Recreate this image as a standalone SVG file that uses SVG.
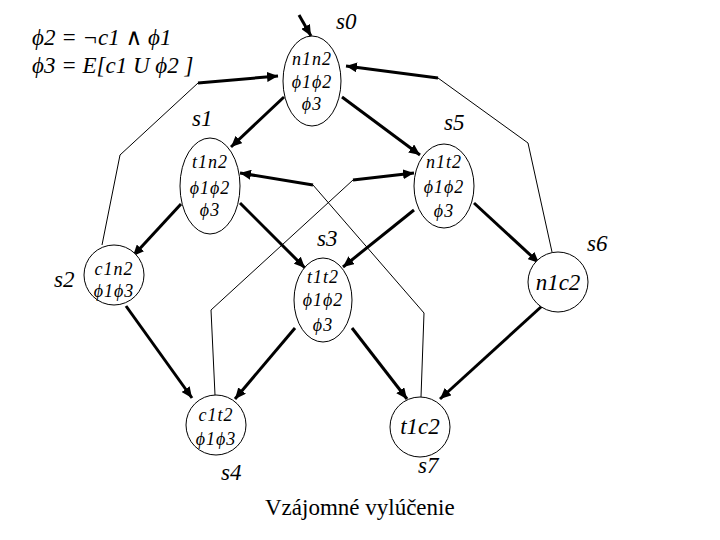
<svg xmlns="http://www.w3.org/2000/svg" width="720" height="540" viewBox="0 0 720 540">
<defs>
<marker id="ah" markerUnits="userSpaceOnUse" markerWidth="12" markerHeight="10" refX="11" refY="5" orient="auto">
<path d="M0,0 L11,5 L0,10 Z" fill="#000"/>
</marker>
<style>
.node ellipse{fill:#fff;stroke:#000;stroke-width:1}
.nt{font-family:"Liberation Serif","DejaVu Serif",serif;font-style:italic;font-size:18px;text-anchor:middle;letter-spacing:1px}
.nb{font-family:"Liberation Serif","DejaVu Serif",serif;font-style:italic;font-size:23px;text-anchor:middle}
.lbl{font-family:"Liberation Serif","DejaVu Serif",serif;font-style:italic;font-size:23px}
.thick{stroke:#000;stroke-width:3;fill:none;marker-end:url(#ah)}
.thin{stroke:#000;stroke-width:1;fill:none}
</style>
</defs>
<rect width="720" height="540" fill="#fff"/>
<g id="connectors">
<line class="thick" x1="299" y1="15" x2="311" y2="36"/>
<line class="thick" x1="284" y1="97" x2="231" y2="147"/>
<line class="thick" x1="342" y1="97" x2="420" y2="155"/>
<line class="thick" x1="181" y1="204" x2="133" y2="256"/>
<line class="thick" x1="240" y1="203" x2="305" y2="268"/>
<line class="thick" x1="414" y1="210" x2="343" y2="267"/>
<line class="thick" x1="474" y1="203" x2="539" y2="263"/>
<line class="thick" x1="126" y1="306" x2="192" y2="398"/>
<line class="thick" x1="295" y1="328" x2="235" y2="399"/>
<line class="thick" x1="352" y1="328" x2="407" y2="399"/>
<line class="thick" x1="542" y1="306" x2="440" y2="399"/>
<polyline class="thin" points="102,245 120,155 198,83"/>
<line class="thick" x1="198" y1="83" x2="278" y2="76"/>
<polyline class="thin" points="552,252 528,143 438,78"/>
<line class="thick" x1="438" y1="78" x2="346" y2="66"/>
<polyline class="thin" points="421,397 424,313 313,185"/>
<line class="thick" x1="313" y1="185" x2="240" y2="173"/>
<polyline class="thin" points="215,395 211,310 353,180"/>
<line class="thick" x1="353" y1="180" x2="414" y2="173"/>
</g>
<g id="s0" class="node">
<ellipse cx="312" cy="81" rx="29" ry="45"/>
<text class="nt" x="312" y="65">n1n2</text>
<text class="nt" x="312" y="88">ϕ1ϕ2</text>
<text class="nt" x="312" y="110">ϕ3</text>
</g>
<g id="s1" class="node">
<ellipse cx="210" cy="186" rx="30" ry="48"/>
<text class="nt" x="210" y="168">t1n2</text>
<text class="nt" x="210" y="194">ϕ1ϕ2</text>
<text class="nt" x="210" y="216">ϕ3</text>
</g>
<g id="s5" class="node">
<ellipse cx="444" cy="186" rx="30" ry="42"/>
<text class="nt" x="444" y="168">n1t2</text>
<text class="nt" x="444" y="193">ϕ1ϕ2</text>
<text class="nt" x="444" y="217">ϕ3</text>
</g>
<g id="s2" class="node">
<ellipse cx="114" cy="275" rx="30" ry="30"/>
<text class="nt" x="114" y="275">c1n2</text>
<text class="nt" x="114" y="297">ϕ1ϕ3</text>
</g>
<g id="s3" class="node">
<ellipse cx="323" cy="300" rx="29" ry="42"/>
<text class="nt" x="323" y="283">t1t2</text>
<text class="nt" x="323" y="306">ϕ1ϕ2</text>
<text class="nt" x="323" y="331">ϕ3</text>
</g>
<g id="s6" class="node">
<ellipse cx="558" cy="282" rx="30" ry="30"/>
<text class="nb" x="558" y="290">n1c2</text>
</g>
<g id="s4" class="node">
<ellipse cx="216" cy="425" rx="30" ry="30"/>
<text class="nt" x="216" y="421">c1t2</text>
<text class="nt" x="216" y="445">ϕ1ϕ3</text>
</g>
<g id="s7" class="node">
<ellipse cx="420" cy="427" rx="30" ry="30"/>
<text class="nb" x="420" y="434">t1c2</text>
</g>
<g id="labels">
<text class="lbl" x="336" y="29">s0</text>
<text class="lbl" x="192" y="126">s1</text>
<text class="lbl" x="444" y="130">s5</text>
<text class="lbl" x="317" y="246">s3</text>
<text class="lbl" x="587" y="251">s6</text>
<text class="lbl" x="54" y="287">s2</text>
<text class="lbl" x="221" y="480">s4</text>
<text class="lbl" x="418" y="473">s7</text>
<text class="lbl" x="32" y="45" font-size="25">ϕ2 = ¬c1 ∧ ϕ1</text>
<text class="lbl" x="32" y="73" font-size="25">ϕ3 = E[c1 U ϕ2 ]</text>
<text x="265" y="515" font-family="'Liberation Serif','DejaVu Serif',serif" font-size="23">Vzájomné vylúčenie</text>
</g>
</svg>
